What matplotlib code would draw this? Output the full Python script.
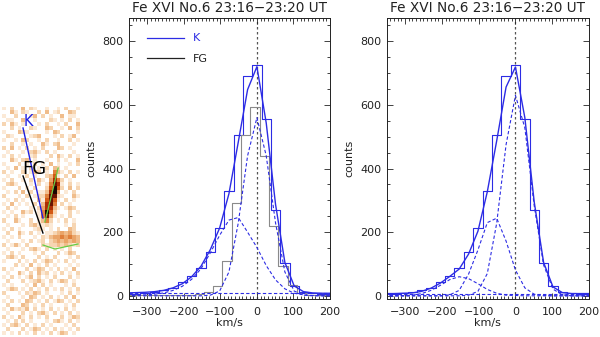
import numpy as np
import matplotlib
matplotlib.use("Agg")
import matplotlib.pyplot as plt
from matplotlib.colors import ListedColormap
from matplotlib.ticker import MultipleLocator
from matplotlib.lines import Line2D

# ---------------- data ----------------
title_text = "Fe XVI No.6 23:16\u221223:20 UT"

# K (blue) histogram: bin centres (km/s) and counts
k_vel = [-357, -331.5, -306, -280.5, -255, -229.5, -204, -178.5, -153, -127.5, -102, -76.5,
         -51, -25.5, 0, 25.5, 51, 76.5, 102, 127.5, 153, 178.5, 204]
k_counts = [5, 6, 9, 12, 17, 26, 44, 62, 87, 138, 213, 328,
            505, 690, 726, 557, 270, 104, 32, 13, 8, 6, 5]

# FG (grey) histogram
fg_vel = [-362, -336.5, -311, -285.5, -260, -234.5, -209, -183.5, -158, -132.5, -107, -81.5,
          -56, -30.5, -5, 20.5, 46, 71.5, 97, 122.5, 148, 173.5, 199]
fg_counts = [2, 2, 2, 3, 3, 3, 4, 4, 5, 11, 32, 110,
             292, 505, 592, 440, 218, 95, 33, 10, 4, 3, 2]

# left panel fit (evaluated at K bin centres)
left_narrow = [0, 0, 0, 0, 0, 0, 0, 0, 0, 2, 15, 75, 229, 440, 560, 440, 229, 75, 15, 2, 0, 0, 0]
left_broad = [1, 2, 3, 5, 9, 17, 30, 52, 85, 135, 190, 238, 246, 200, 152, 95, 50, 22, 8, 3, 1, 0, 0]
left_total = [9, 10, 11, 13, 17, 25, 38, 60, 93, 145, 213, 321, 483, 648, 720, 543, 287, 105, 31, 13, 9, 8, 8]
left_bg = 8

# right panel fit (evaluated at K bin centres)
right_narrow = [0, 0, 0, 0, 0, 0, 0, 0, 0, 2, 14, 70, 228, 475, 630, 528, 283, 97, 21, 3, 0, 0, 0]
right_mid = [0, 0, 0, 0, 0, 0, 0, 3, 17, 68, 144, 230, 244, 172, 81, 25, 5, 1, 0, 0, 0, 0, 0]
right_wing = [0, 0, 0.5, 2, 7, 17, 33, 51, 60, 54, 38, 20, 8, 2, 1, 0, 0, 0, 0, 0, 0, 0, 0]
right_total = [7, 7, 8, 9, 14, 24, 40, 61, 84, 131, 203, 327, 487, 656, 719, 560, 295, 105, 28, 10, 7, 7, 7]
right_bg = 7

legend_labels = ["K", "FG"]
x_ticks = [-300, -200, -100, 0, 100, 200]
y_ticks = [0, 200, 400, 600, 800]

# context image (intensity levels 0-9), 20 columns x 57 rows
image_rows = [
    "10200302100100102001",
    "00310210020301200320",
    "10020001302010030110",
    "01100300100021010201",
    "20310100010200102003",
    "00201002100320010302",
    "10003210000103200001",
    "02100001230001020130",
    "10010320010200100201",
    "00200101003102300010",
    "20301020102000320100",
    "01000102310201000010",
    "10201001200020310201",
    "00310230100100201003",
    "10002010201030100102",
    "01030102010203201000",
    "20100201320105310201",
    "01001020100236102030",
    "10200102031047520100",
    "02310001020158710201",
    "10002010200269620302",
    "01020302011379401020",
    "20001020122588210031",
    "01020100031686102010",
    "10301010203785020100",
    "02010001024773101320",
    "10100312015962000201",
    "01020100015841010200",
    "20031002013520102010",
    "01000102311210001020",
    "10201000121010200320",
    "02003102010112343421",
    "10102000102134454543",
    "01000102012023434343",
    "20131020002122323212",
    "01000102310201010200",
    "10201000102000201320",
    "02310200020102000102",
    "10002010201320102010",
    "00020103010201000101",
    "20100020132010201030",
    "01003102031201020102",
    "10201013020102000201",
    "02000201231020132010",
    "10100010302010001020",
    "01320102010201020102",
    "20001021320100010201",
    "01000103201020102030",
    "10201032010201320102",
    "02000320102010001020",
    "10312130201020102010",
    "01000201023102010201",
    "20103102010200020132",
    "01020201000102310201",
    "10231020102010001020",
    "02000201320102010102",
    "10102010201020132010",
]
image_colors = ["#ffffff", "#fbe9d6", "#f6d5b2", "#f0bd8c", "#eaa468",
                "#e0803c", "#d25814", "#ad2e04", "#6a1300", "#1a0500"]
k_line_x = [5.4, 10.5]
k_line_y = [5.25, 27.75]
fg_line_x = [5.4, 10.5]
fg_line_y = [17.25, 31.5]
green1_x = [14.4, 11.0]
green1_y = [15.25, 28.75]
green2_x = [10.5, 13.6, 19.5]
green2_y = [34.5, 35.5, 34.25]

# ---------------- styling ----------------
BLUE = "#2c2ce4"
GREY = "#8a8a8a"
plt.rcParams["font.family"] = ["DejaVu Sans"]

fig = plt.figure(figsize=(6, 3.37), dpi=100)


def style_axes(ax):
    ax.set_xlim(-350, 200)
    ax.set_ylim(-10, 873)
    ax.set_xticks(x_ticks)
    ax.set_yticks(y_ticks)
    ax.xaxis.set_minor_locator(MultipleLocator(10))
    ax.yaxis.set_minor_locator(MultipleLocator(50))
    ax.tick_params(which="both", direction="in", top=True, right=True,
                   labelsize=8, width=0.6, color="#222222", labelcolor="#222222")
    ax.tick_params(which="major", length=4)
    ax.tick_params(which="minor", length=2)
    ax.tick_params(axis="x", pad=6)
    ax.tick_params(axis="y", pad=4)
    for s in ax.spines.values():
        s.set_linewidth(0.7)
        s.set_color("#222222")
    ax.set_title(title_text, fontsize=9.8, pad=4, color="#222222")
    ax.set_xlabel("km/s", fontsize=8, color="#222222")
    ax.set_ylabel("counts", fontsize=8, color="#222222")
    ax.xaxis.set_label_coords(0.5, -0.068)
    ax.yaxis.set_label_coords(-0.16, 0.5)
    ax.axvline(0, color="#555555", lw=0.9, ls=(0, (2, 2)), zorder=1)


dash = (0, (3, 2))

# left panel
ax1 = fig.add_axes([0.215, 0.1128, 0.335, 0.8338])
ax1.step(k_vel, k_counts, where="mid", color=BLUE, lw=0.8)
ax1.step(fg_vel, fg_counts, where="mid", color=GREY, lw=0.8)
ax1.plot(k_vel, left_total, color=BLUE, lw=1.0)
ax1.plot(k_vel, left_narrow, color=BLUE, lw=0.8, ls=dash)
ax1.plot(k_vel, left_broad, color=BLUE, lw=0.8, ls=dash)
ax1.axhline(left_bg, color=BLUE, lw=0.8, ls=dash)
style_axes(ax1)
handles = [Line2D([], [], color=BLUE, lw=0.9), Line2D([], [], color="#222222", lw=0.9)]
leg = ax1.legend(handles, legend_labels, loc="upper left", bbox_to_anchor=(0.088, 0.945),
                 frameon=False, fontsize=8, handlelength=3.4, handletextpad=0.8,
                 labelspacing=0.95, borderpad=0, borderaxespad=0)
leg.get_texts()[0].set_color(BLUE)
leg.get_texts()[1].set_color("#222222")

# right panel
ax2 = fig.add_axes([0.6445, 0.1128, 0.3372, 0.8338])
ax2.step(k_vel, k_counts, where="mid", color=BLUE, lw=0.8)
ax2.plot(k_vel, right_total, color=BLUE, lw=1.0)
ax2.plot(k_vel, right_narrow, color=BLUE, lw=0.8, ls=dash)
ax2.plot(k_vel, right_mid, color=BLUE, lw=0.8, ls=dash)
ax2.plot(k_vel, right_wing, color=BLUE, lw=0.8, ls=dash)
ax2.axhline(right_bg, color=BLUE, lw=0.8, ls=dash)
style_axes(ax2)

# context image
grid = np.array([[int(c) for c in row] for row in image_rows])
ax0 = fig.add_axes([0.0033, 0.0059, 0.13, 0.6766])
ax0.imshow(grid, cmap=ListedColormap(image_colors), vmin=-0.5, vmax=9.5,
           interpolation="nearest", aspect="auto", extent=(0, 20, 57, 0))
ax0.plot(green1_x, green1_y, color="#66cc44", lw=0.9)
ax0.plot(green2_x, green2_y, color="#66cc44", lw=0.9)
ax0.plot(k_line_x, k_line_y, color="#2020e0", lw=1.0)
ax0.plot(fg_line_x, fg_line_y, color="black", lw=1.0)
ax0.text(6.7, 3.75, "K", color="#2020e0", fontsize=10.5, ha="center", va="center")
ax0.text(8.4, 15.5, "FG", color="black", fontsize=13, ha="center", va="center")
ax0.set_xlim(0, 20)
ax0.set_ylim(57, 0)
ax0.axis("off")

fig.savefig("out.png", dpi=100)
